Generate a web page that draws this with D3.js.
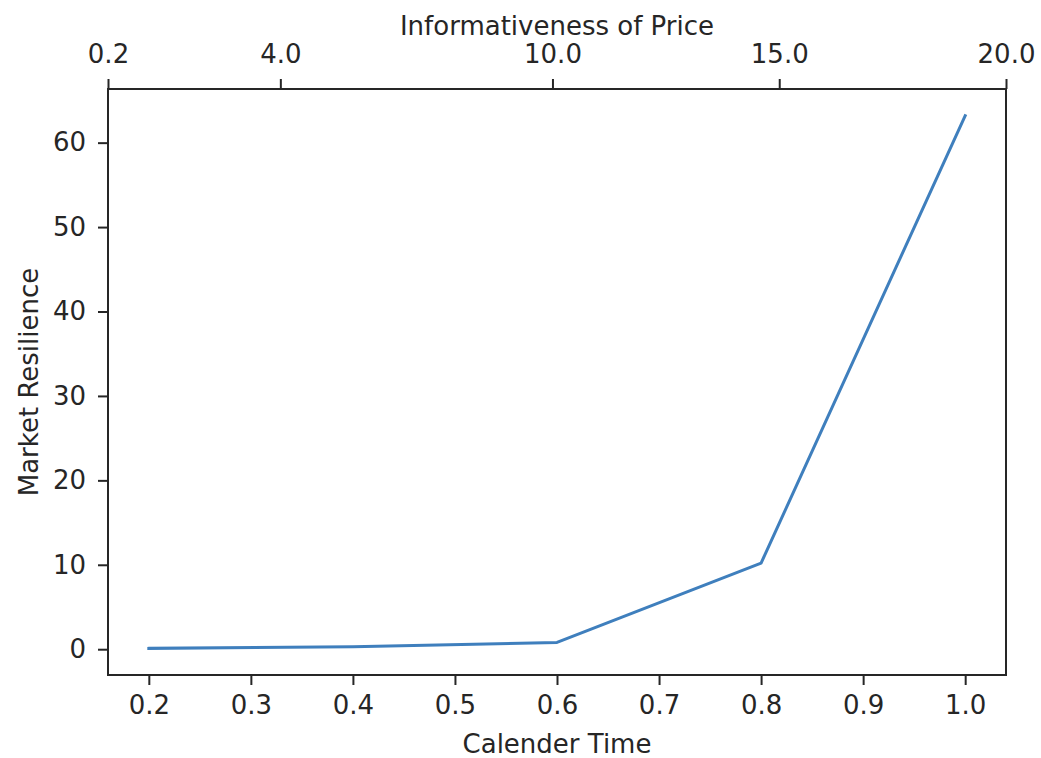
<!DOCTYPE html>
<html><head><meta charset="utf-8">
<script src="https://cdn.jsdelivr.net/npm/d3@7"></script>
<style>body{margin:0;background:#fff}svg{display:block}text{font-family:"DejaVu Sans",sans-serif;fill:#262626}</style>
</head><body><svg id="c" width="1041" height="758"></svg>
<script>
const calendarTime = [0.2, 0.4, 0.6, 0.8, 1.0];
const resilience = [0.1, 0.3, 0.8, 10.2, 63.2];
const bottomTicks = [0.2, 0.3, 0.4, 0.5, 0.6, 0.7, 0.8, 0.9, 1.0];
const leftTicks = [0, 10, 20, 30, 40, 50, 60];
const topTicks = [0.2, 4.0, 10.0, 15.0, 20.0];
const topDomain = [0.2, 20.0];

const svg = d3.select("#c");
const L = 108, R = 1006, T = 89, B = 675;
const fs = 26;
const xmin = d3.min(calendarTime), xmax = d3.max(calendarTime);
const ymin = d3.min(resilience), ymax = d3.max(resilience);
const mx = (xmax - xmin) * 0.05, my = (ymax - ymin) * 0.05;
const x = d3.scaleLinear().domain([xmin - mx, xmax + mx]).range([L, R]);
const y = d3.scaleLinear().domain([ymin - my, ymax + my]).range([B, T]);
const x2 = d3.scaleLinear().domain(topDomain).range([L, R]);

function style(g){
  g.select(".domain").remove();
  g.selectAll(".tick line").attr("stroke","#262626").attr("stroke-width",2);
  g.selectAll(".tick text").style("font-size", fs+"px").attr("fill","#262626");
}
svg.append("g").attr("transform",`translate(0,${B})`)
  .call(d3.axisBottom(x).tickValues(bottomTicks).tickFormat(d3.format(".1f")).tickSize(10).tickPadding(11)).call(style);
svg.append("g").attr("transform",`translate(${L},0)`)
  .call(d3.axisLeft(y).tickValues(leftTicks).tickFormat(d3.format("d")).tickSize(10).tickPadding(12)).call(style);
svg.append("g").attr("transform",`translate(0,${T})`)
  .call(d3.axisTop(x2).tickValues(topTicks).tickFormat(d3.format(".1f")).tickSize(10).tickPadding(16)).call(style);

svg.append("rect").attr("x",L).attr("y",T).attr("width",R-L).attr("height",B-T)
  .attr("fill","none").attr("stroke","#262626").attr("stroke-width",2);

svg.append("path").datum(calendarTime.map((d,i)=>[d,resilience[i]]))
  .attr("fill","none").attr("stroke","#3f7fbd").attr("stroke-width",3)
  .attr("stroke-linejoin","round").attr("stroke-linecap","square")
  .attr("d", d3.line().x(d=>x(d[0])).y(d=>y(d[1])));

svg.append("text").attr("x",(L+R)/2).attr("y",753).attr("text-anchor","middle").style("font-size",fs+"px").text("Calender Time");
svg.append("text").attr("x",(L+R)/2).attr("y",35).attr("text-anchor","middle").style("font-size",fs+"px").text("Informativeness of Price");
svg.append("text").attr("transform",`translate(38,${(T+B)/2}) rotate(-90)`).attr("text-anchor","middle").style("font-size",fs+"px").text("Market Resilience");
</script></body></html>
